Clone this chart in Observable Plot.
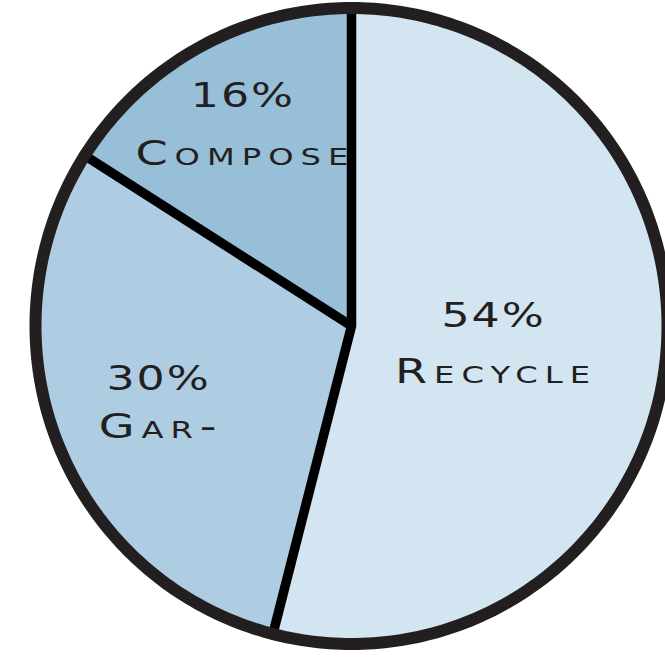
<!DOCTYPE html>
<html>
<head>
<meta charset="utf-8">
<script src="https://cdn.jsdelivr.net/npm/d3@7"></script>
<script src="https://cdn.jsdelivr.net/npm/@observablehq/plot@0.6"></script>
<style>
  html, body { margin: 0; padding: 0; background: #ffffff; }
  #chart svg { display: block; }
  #chart svg .pct text { letter-spacing: 1.5px; }
  #chart svg .nm text { letter-spacing: 5px; }
</style>
</head>
<body>
<div id="chart"></div>
<script>
// ---- data ----
const categories = ["Recycle", "Gar-", "Compose"];
const shares = [54, 30, 16];
const percentLabels = ["54%", "30%", "16%"];

// ---- style / layout (not data) ----
const sliceColors = ["#d2e5f1", "#aecde3", "#97bfd7"];
const labelRadius = [0.45, 0.66, 0.72];
const labelGap = [28, 24, 29];
const ringColor = "#231f20";
const textColor = "#231f20";
const pctStretch = 1.3, nameStretch = 1.4;

const arcs = d3.pie().sort(null).value(d => d)(shares);
const pt = a => ({x: Math.sin(a), y: Math.cos(a)});

// slice polygons (hub + sampled arc), in unit-circle data space
const slicePts = [];
arcs.forEach((a, i) => {
  slicePts.push({cat: categories[i], x: 0, y: 0});
  const n = Math.max(2, Math.ceil((a.endAngle - a.startAngle) / (0.5 * Math.PI / 180)));
  for (let k = 0; k <= n; ++k) {
    const t = a.startAngle + (a.endAngle - a.startAngle) * k / n;
    slicePts.push({cat: categories[i], ...pt(t)});
  }
});

// outer ring
const ringPts = d3.range(0, 360, 1).map(d => pt(d * Math.PI / 180));

// spokes at slice boundaries
const b = arcs.map(a => a.startAngle);
const spokeA = [{...pt(b[0])}, {x: 0, y: 0}, {...pt(b[1])}];
const spokeB = [{...pt(b[2])}, {x: 0, y: 0}];

// labels at per-slice radius along mid-angle
const labels = arcs.map((a, i) => {
  const m = (a.startAngle + a.endAngle) / 2;
  return {pct: percentLabels[i], name: categories[i], x: labelRadius[i] * Math.sin(m), y: labelRadius[i] * Math.cos(m), gap: labelGap[i]};
});

const chart = Plot.plot({
  width: 665,
  height: 666,
  margin: 0,
  x: {domain: [-1, 1], range: [35, 667], axis: null},
  y: {domain: [-1, 1], range: [643.5, 7.5], axis: null},
  color: {domain: categories, range: sliceColors},
  style: {background: "#ffffff"},
  marks: [
    Plot.line(slicePts, {x: "x", y: "y", z: "cat", fill: "cat", stroke: "none", curve: "linear-closed"}),
    Plot.line(spokeA, {x: "x", y: "y", stroke: "#000000", strokeWidth: 9.5, strokeLinejoin: "miter", strokeLinecap: "butt"}),
    Plot.line(spokeB, {x: "x", y: "y", stroke: "#000000", strokeWidth: 9.5, strokeLinecap: "butt"}),
    Plot.line(ringPts, {x: "x", y: "y", stroke: ringColor, strokeWidth: 12, curve: "linear-closed", fill: "none"}),
    ...labels.map(l => Plot.text([l], {x: "x", y: "y", text: "pct", className: "pct", dy: -l.gap, dx: 1, fontFamily: "DejaVu Sans", fontSize: 34, fill: textColor, textAnchor: "middle", lineAnchor: "middle"})),
    ...labels.map(l => Plot.text([l], {x: "x", y: "y", text: "name", className: "nm", dy: l.gap, dx: 3.5, fontFamily: "DejaVu Sans", fontSize: 33, fontVariant: "small-caps", fill: textColor, textAnchor: "middle", lineAnchor: "middle"}))
  ]
});
// horizontal stretch of label glyphs (extended lettering look)
chart.querySelectorAll(".pct text").forEach(t => t.setAttribute("transform", (t.getAttribute("transform") || "") + ` scale(${pctStretch},1)`));
chart.querySelectorAll(".nm text").forEach(t => t.setAttribute("transform", (t.getAttribute("transform") || "") + ` scale(${nameStretch},1)`));
document.getElementById("chart").appendChild(chart);
</script>
</body>
</html>
